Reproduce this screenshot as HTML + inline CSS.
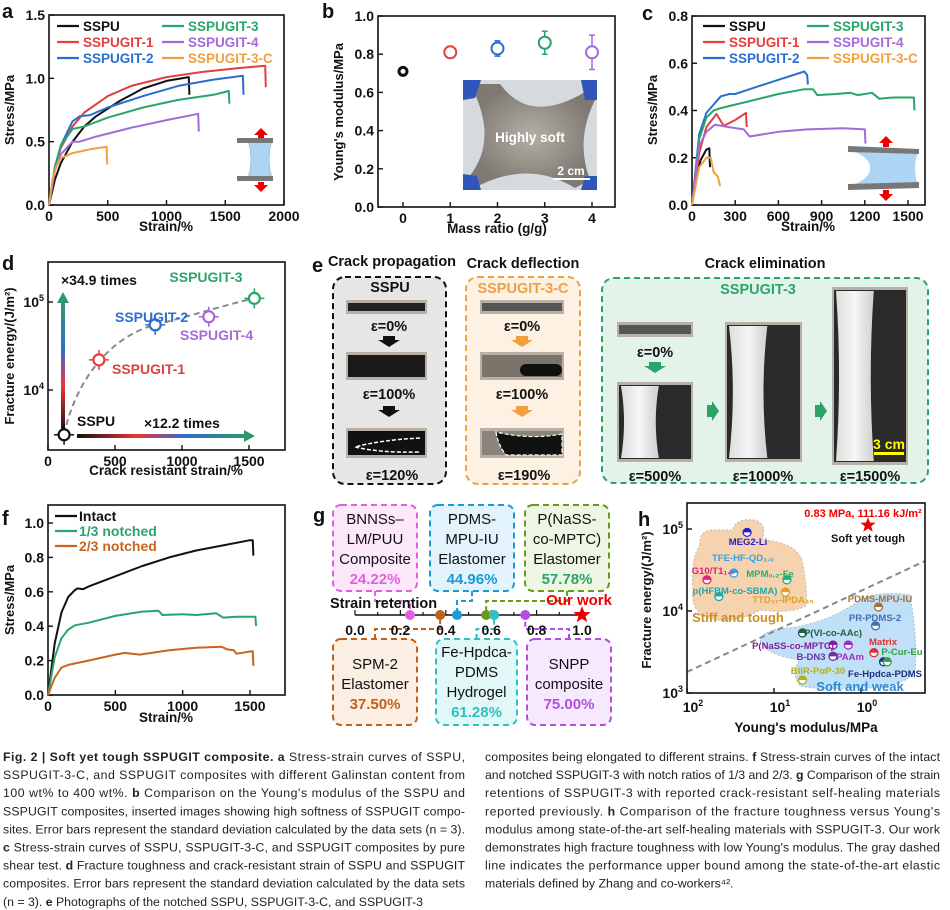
<!DOCTYPE html>
<html><head><meta charset="utf-8"><style>
body{margin:0;background:#fff;}
svg{display:block;font-family:"Liberation Sans",sans-serif;}
.cap{font-size:12.3px;fill:#222;}
</style></head><body>
<svg id="fig" width="950" height="910" viewBox="0 0 950 910" xmlns="http://www.w3.org/2000/svg">
<defs>
<linearGradient id="hgrad" x1="0" x2="1"><stop offset="0" stop-color="#111"/><stop offset="0.35" stop-color="#e33"/><stop offset="0.65" stop-color="#2a6fd0"/><stop offset="1" stop-color="#2a9a6a"/></linearGradient>
<linearGradient id="vgrad" x1="0" x2="0" y1="1" y2="0"><stop offset="0" stop-color="#111"/><stop offset="0.35" stop-color="#e33"/><stop offset="0.65" stop-color="#2a6fd0"/><stop offset="1" stop-color="#2a9a6a"/></linearGradient>
<linearGradient id="film" x1="0" x2="1"><stop offset="0" stop-color="#ddd"/><stop offset="0.5" stop-color="#f6f6f6"/><stop offset="1" stop-color="#cfcfcf"/></linearGradient>
<radialGradient id="softimg"><stop offset="0" stop-color="#b4afa6"/><stop offset="1" stop-color="#7e7a73"/></radialGradient>
</defs>
<g id="panels"></g>
</svg>
<script>
// ---------- DATA ----------
var aNames=["SSPU","SSPUGIT-1","SSPUGIT-2","SSPUGIT-3","SSPUGIT-4","SSPUGIT-3-C"];
var aColors=["#111","#e04040","#2a6fd0","#2aa56a","#a66ad8","#f0a040"];
var aStrain=[
[0,50,100,200,300,400,600,800,1000,1190,1195],
[0,50,100,200,300,500,700,1000,1300,1600,1840,1845],
[0,50,100,200,260,350,500,800,1100,1400,1650,1655],
[0,50,100,200,300,500,800,1100,1400,1530,1535],
[0,50,100,200,260,400,700,1000,1270,1275],
[0,30,60,100,200,350,490,495]];
var aStress=[
[0,0.2,0.33,0.5,0.62,0.7,0.82,0.92,0.98,1.01,0.87],
[0,0.3,0.45,0.62,0.73,0.86,0.94,1.01,1.05,1.08,1.1,0.93],
[0,0.3,0.47,0.66,0.7,0.71,0.77,0.86,0.94,0.99,1.02,0.87],
[0,0.3,0.47,0.6,0.62,0.69,0.77,0.83,0.87,0.9,0.8],
[0,0.27,0.4,0.5,0.5,0.54,0.61,0.67,0.72,0.58],
[0,0.2,0.3,0.37,0.41,0.44,0.46,0.32]];
var bRatio=[0,1,2,3,4];
var bModulus=[0.71,0.81,0.83,0.86,0.81];
var bErr=[0.01,0.03,0.04,0.06,0.09];
var cStrain=[
[0,30,60,100,120,125],
[0,50,100,170,220,300,375,380],
[0,50,100,200,260,300,400,600,780,800,805],
[0,50,100,150,200,400,600,780,840,870,1000,1100,1150,1250,1300,1400,1540,1545],
[0,50,100,160,250,360,400,600,800,1050,1200,1205],
[0,50,100,130,150,180,195]];
var cStress=[
[0,0.12,0.19,0.235,0.24,0.16],
[0,0.22,0.33,0.385,0.335,0.36,0.39,0.33],
[0,0.3,0.39,0.46,0.47,0.47,0.49,0.53,0.565,0.55,0.51],
[0,0.28,0.37,0.4,0.41,0.44,0.47,0.49,0.49,0.465,0.47,0.475,0.465,0.475,0.45,0.455,0.455,0.4],
[0,0.25,0.31,0.34,0.33,0.32,0.29,0.31,0.32,0.325,0.32,0.26],
[0,0.16,0.2,0.2,0.14,0.12,0.08]];
var dNames=["SSPU","SSPUGIT-1","SSPUGIT-2","SSPUGIT-4","SSPUGIT-3"];
var dStrain=[120,380,800,1200,1540];
var dEnergy=[3100,22000,55000,68000,110000];
var dColors=["#111","#e04040","#2a6fd0","#a66ad8","#2aa56a"];
var fNames=["Intact","1/3 notched","2/3 notched"];
var fColors=["#111","#2aa56a","#c8641e"];
var fStrain=[
[0,50,100,150,200,220,260,300,500,700,900,1100,1300,1500,1520,1525],
[0,50,100,150,200,300,500,700,820,850,1000,1100,1250,1300,1400,1540,1545],
[0,50,100,150,300,500,570,680,900,1100,1290,1330,1380,1400,1520,1525]];
var fStress=[
[0,0.3,0.48,0.57,0.61,0.62,0.615,0.63,0.69,0.75,0.8,0.84,0.87,0.9,0.9,0.81],
[0,0.22,0.33,0.38,0.405,0.42,0.46,0.485,0.49,0.465,0.47,0.465,0.475,0.45,0.455,0.455,0.4],
[0,0.1,0.16,0.175,0.2,0.235,0.245,0.235,0.26,0.275,0.28,0.265,0.26,0.24,0.255,0.17]];
var gNames=["BNNSs-LM/PUU","SPM-2","PDMS-MPU-IU","P(NaSS-co-MPTC)","Fe-Hpdca-PDMS","SNPP","Our work"];
var gRetention=[0.2422,0.375,0.4496,0.5778,0.6128,0.75,1.0];
var gColors=["#e060e0","#c0601a","#1a9ad8","#6a9a1a","#30c0c0","#b050e0","#e00"];
var hNames=["MEG2-Li","TFE-HF-QD1.0","G10/T11.6","MPM0.2-Fe","p(HFBM-co-SBMA)","TTD37-IPDA45","PDMS-MPU-IU","PR-PDMS-2","P(VI-co-AAc)","P(NaSS-co-MPTC)","PAAm","B-DN3","Matrix","Fe-Hpdca-PDMS","P-Cur-Eu","BIIR-PαP-30"];
var hModulus=[20.4,29,59,7.1,43,7.4,0.63,0.68,4.7,2.1,1.4,2.1,0.71,0.55,0.5,4.7];
var hEnergy=[91000,29000,24000,24000,15000,17000,11200,6600,5400,3850,3850,2800,3100,2400,2400,1440];
var hColors=["#2222cc","#3aa0e0","#e0207a","#20b070","#20a8a8","#e0a020","#a07040","#4070b0","#206040","#8020a0","#a030c0","#7030a0","#e03030","#203080","#30a040","#b0b020"];
var ourModulus=[0.83], ourEnergy=[111160];

// ---------- helpers ----------
var NS="http://www.w3.org/2000/svg";
var root=document.getElementById("panels");
function el(tag,parent){var e=document.createElementNS(NS,tag);(parent||root).appendChild(e);return e;}
function attr(e,o){for(var k in o)e.setAttribute(k,o[k]);return e;}
function txt(parent,x,y,s,size,fill,anchor,weight){var t=el("text",parent);attr(t,{x:x,y:y,"font-size":size,fill:fill||"#111","text-anchor":anchor||"start","font-weight":weight||"bold"});t.textContent=s;return t;}
function lin(d0,d1,r0,r1){return function(v){return r0+(v-d0)/(d1-d0)*(r1-r0);};}
function logs(d0,d1,r0,r1){return function(v){return r0+(Math.log10(v)-d0)/(d1-d0)*(r1-r0);};}

function axesBox(g,x0,y0,x1,y1){var r=el("rect",g);attr(r,{x:x0,y:y0,width:x1-x0,height:y1-y0,fill:"none",stroke:"#111","stroke-width":1.6});}
function xTicks(g,sx,vals,labels,yb){for(var i=0;i<vals.length;i++){var x=sx(vals[i]);var l=el("line",g);attr(l,{x1:x,x2:x,y1:yb,y2:yb-5,stroke:"#111","stroke-width":1.4});var t=txt(g,x,yb+16,labels[i],14,"#111","middle");}}
function yTicks(g,sy,vals,labels,xl){for(var i=0;i<vals.length;i++){var y=sy(vals[i]);var l=el("line",g);attr(l,{x1:xl,x2:xl+5,y1:y,y2:y,stroke:"#111","stroke-width":1.4});var t=txt(g,xl-4,y+5,labels[i],14,"#111","end");}}
function supTick(g,x,y,exp){var t=txt(g,x,y,"10",14,"#111","end");var s=el("tspan",t);attr(s,{dy:-6,"font-size":9});s.textContent=exp;return t;}
function yTitle(g,x,y,s,size){var t=txt(g,x,y,s,size||13,"#111","middle");t.setAttribute("transform","rotate(-90 "+x+" "+y+")");return t;}
function xTitle(g,x,y,s){var t=txt(g,x,y,s,13.5,"#111","middle");return t;}
function panelLabel(x,y,s){var t=txt(root,x,y,s,20,"#111","start");}
function curve(g,sx,sy,xs,ys,color,w){var d="";for(var i=0;i<xs.length;i++)d+=(i?"L":"M")+sx(xs[i]).toFixed(1)+","+sy(ys[i]).toFixed(1);var p=el("path",g);attr(p,{d:d,fill:"none",stroke:color,"stroke-width":w||2,"stroke-linejoin":"round"});return p;}
function starPath(cx,cy,r){var d="";for(var i=0;i<10;i++){var rr=i%2?r*0.42:r;var a=-Math.PI/2+i*Math.PI/5;d+=(i?"L":"M")+(cx+rr*Math.cos(a)).toFixed(1)+","+(cy+rr*Math.sin(a)).toFixed(1);}return d+"Z";}

// ---------- panel a ----------
(function(){
var g=el("g");
var sx=lin(0,2000,49,284), sy=lin(0,1.5,205,15);
axesBox(g,49,15,284,205);
xTicks(g,sx,[0,500,1000,1500,2000],["0","500","1000","1500","2000"],205);
yTicks(g,sy,[0,0.5,1.0,1.5],["0.0","0.5","1.0","1.5"],49);
for(var i=0;i<aNames.length;i++){var p=curve(g,sx,sy,aStrain[i],aStress[i],aColors[i],2);}
for(var i=0;i<aNames.length;i++){var col=i<3?0:1,row=i%3;var lx=col?162:57,ly=26+row*16;var l=el("line",g);attr(l,{x1:lx,x2:lx+22,y1:ly,y2:ly,stroke:aColors[i],"stroke-width":2.2});var t=txt(g,lx+26,ly+5,aNames[i],13.5,aColors[i]);}
var ig=el("g",g);
attr(el("path",ig),{d:"M248,140 Q254,160 248,178 L272,178 Q266,160 272,140 Z",fill:"#aed4f4",stroke:"#7aa","stroke-width":0.5});
attr(el("rect",ig),{x:237,y:138,width:36,height:5,fill:"#777"});
attr(el("rect",ig),{x:237,y:176,width:36,height:5,fill:"#777"});
attr(el("path",ig),{d:"M261,128 L254,135 L258,135 L258,138 L264,138 L264,135 L268,135 Z",fill:"#e00"});
attr(el("path",ig),{d:"M261,192 L254,185 L258,185 L258,182 L264,182 L264,185 L268,185 Z",fill:"#e00"});
yTitle(g,14,110,"Stress/MPa");
xTitle(g,166,231,"Strain/%");
panelLabel(2,18,"a");
})();

// ---------- panel b ----------
(function(){
var g=el("g");
var sx=lin(0,4,403,592), sy=lin(0,1,207,16);
var ph=el("g",g);
attr(el("rect",ph),{x:463,y:80,width:134,height:110,fill:"#d6d9dd"});
attr(el("path",ph),{d:"M470,84 L500,84 Q530,125 585,92 L595,100 Q575,140 590,180 L575,188 Q530,160 478,186 L468,178 Q500,140 470,84 Z",fill:"url(#softimg)"});
attr(el("path",ph),{d:"M463,80 l18,0 l-6,18 l-12,2Z M597,80 l-16,0 l4,20 l12,0Z M463,190 l0,-16 l14,2 l4,14Z M597,190 l-16,0 l4,-14 l12,0Z",fill:"#2f56b8"});
var t=txt(ph,530,142,"Highly soft",13.5,"#fff","middle");
attr(el("rect",ph),{x:553,y:178,width:37,height:2,fill:"#fff"});
var t2=txt(ph,571,175,"2 cm",12,"#fff","middle");
axesBox(g,378,16,615,207);
xTicks(g,sx,[0,1,2,3,4],["0","1","2","3","4"],207);
yTicks(g,sy,[0,0.2,0.4,0.6,0.8,1.0],["0.0","0.2","0.4","0.6","0.8","1.0"],378);
for(var i=0;i<bRatio.length;i++){var x=sx(bRatio[i]),y=sy(bModulus[i]);var eb=el("path",g);attr(eb,{d:"M"+(x-3)+","+sy(bModulus[i]+bErr[i])+"h6M"+x+","+sy(bModulus[i]+bErr[i])+"V"+sy(bModulus[i]-bErr[i])+"M"+(x-3)+","+sy(bModulus[i]-bErr[i])+"h6",stroke:aColors[i],"stroke-width":1.5,fill:"none"});
var c=el("circle",g);attr(c,{cx:x,cy:y,r:i==0?4:6,fill:"#fff",stroke:aColors[i],"stroke-width":i==0?3:2});}
yTitle(g,343,112,"Young's modulus/MPa");
xTitle(g,497,233,"Mass ratio (g/g)");
panelLabel(322,18,"b");
})();

// ---------- panel c ----------
(function(){
var g=el("g");
var sx=lin(0,1500,692,908), sy=lin(0,0.8,205,16);
axesBox(g,692,16,925,205);
xTicks(g,sx,[0,300,600,900,1200,1500],["0","300","600","900","1200","1500"],205);
yTicks(g,sy,[0,0.2,0.4,0.6,0.8],["0.0","0.2","0.4","0.6","0.8"],692);
for(var i=0;i<aNames.length;i++){var p=curve(g,sx,sy,cStrain[i],cStress[i],aColors[i],2);}
for(var i=0;i<aNames.length;i++){var col=i<3?0:1,row=i%3;var lx=col?807:703,ly=26+row*16;var l=el("line",g);attr(l,{x1:lx,x2:lx+22,y1:ly,y2:ly,stroke:aColors[i],"stroke-width":2.2});var t=txt(g,lx+26,ly+5,aNames[i],13.5,aColors[i]);}
var ig=el("g",g);
attr(el("path",ig),{d:"M855,152 L918,152 Q912,170 918,184 L855,184 Q870,178 870,168 Q870,158 855,152Z",fill:"#aed4f4"});
attr(el("path",ig),{d:"M848,146 L919,149 L919,154 L848,152Z",fill:"#777"});
attr(el("path",ig),{d:"M848,184 L919,182 L919,188 L848,190Z",fill:"#777"});
attr(el("path",ig),{d:"M886,136 L879,143 L883,143 L883,147 L889,147 L889,143 L893,143Z",fill:"#e00"});
attr(el("path",ig),{d:"M886,201 L879,194 L883,194 L883,190 L889,190 L889,194 L893,194Z",fill:"#e00"});
yTitle(g,657,110,"Stress/MPa");
xTitle(g,808,231,"Strain/%");
panelLabel(642,20,"c");
})();

// ---------- panel d ----------
(function(){
var g=el("g");
var sx=lin(0,1500,48,249), sy=logs(4,5,390,302);
axesBox(g,48,262,285,450);
xTicks(g,sx,[0,500,1000,1500],["0","500","1000","1500"],450);
supTick(g,44,307,"5");supTick(g,44,395,"4");
[302,390].forEach(function(y){attr(el("line",g),{x1:48,x2:53,y1:y,y2:y,stroke:"#111","stroke-width":1.4});});
var ar=el("g",g);
attr(el("rect",ar),{x:61,y:302,width:4,height:130,fill:"url(#vgrad)"});
attr(el("path",ar),{d:"M57,303 L63,292 L69,303Z",fill:"#2a9a6a"});
attr(el("rect",ar),{x:77,y:434,width:168,height:4,fill:"url(#hgrad)"});
attr(el("path",ar),{d:"M244,430 L255,436 L244,442Z",fill:"#2a9a6a"});
var t1=txt(g,61,285,"×34.9 times",14);
var t2=txt(g,144,428,"×12.2 times",14);
var fc=el("path",g);attr(fc,{d:"M"+sx(120)+","+sy(3100)+" C"+sx(200)+","+sy(12000)+" "+sx(450)+","+sy(40000)+" "+sx(800)+","+sy(55000)+" S"+sx(1350)+","+sy(95000)+" "+sx(1540)+","+sy(110000),fill:"none",stroke:"#888","stroke-width":2,"stroke-dasharray":"6,4"});
var lab=[[77,426],[112,374],[115,322],[180,340],[206,282]];
for(var i=0;i<dStrain.length;i++){var x=sx(dStrain[i]),y=sy(dEnergy[i]);
var eb=el("path",g);attr(eb,{d:"M"+(x-10)+","+y+"H"+(x+10)+"M"+x+","+(y-10)+"V"+(y+10),stroke:dColors[i],"stroke-width":1.5});
var c=el("circle",g);attr(c,{cx:x,cy:y,r:5.5,fill:"#fff",stroke:dColors[i],"stroke-width":2.2});
var t=txt(g,lab[i][0],lab[i][1],dNames[i],14,dColors[i],i==4?"middle":"start");}
yTitle(g,14,356,"Fracture energy/(J/m²)");
xTitle(g,166,475,"Crack resistant strain/%");
panelLabel(2,270,"d");
})();

// ---------- panel e ----------
(function(){
var g=el("g");
function box(x,y,w,h,stroke,fill,name){var r=el("rect",g);attr(r,{x:x,y:y,width:w,height:h,rx:12,fill:fill,stroke:stroke,"stroke-width":2,"stroke-dasharray":"6,4"});}
function photo(x,y,w,h,dark){var p=el("g",g);attr(el("rect",p),{x:x,y:y,width:w,height:h,fill:"#b8b0a4"});attr(el("rect",p),{x:x+2,y:y+3,width:w-4,height:h-6,fill:dark});return p;}
function arrow(x,y,col){var a=el("path",g);attr(a,{d:"M"+(x-6)+","+y+"h12v4h5l-11,7l-11,-7h5z",fill:col});}
function label(x,y,s,size,col){var t=txt(g,x,y,s,size||14.5,col||"#111","middle");}
box(333,277,113,207,"#111","#e6e6e6","sspu-box");
box(466,277,114,207,"#f0a040","#fdf1e4","sspugit-3-c-box");
box(602,278,326,205,"#2aa56a","#e4f3ea","sspugit-3-box");
label(392,266,"Crack propagation",14.5);label(523,268,"Crack deflection",14.5);label(765,268,"Crack elimination",14.5);
label(390,292,"SSPU",14.5);label(523,293,"SSPUGIT-3-C",14.5,"#f0a040");label(758,294,"SSPUGIT-3",14.5,"#2aa56a");
photo(346,300,81,14,"#222");label(389,331,"ε=0%");arrow(389,336,"#111");
photo(346,352,81,28,"#1a1a1a");label(389,399,"ε=100%");arrow(389,406,"#111");
var p3=photo(346,428,81,30,"#111");attr(el("path",p3),{d:"M420,438 Q380,440 355,447 Q380,453 420,452",fill:"none",stroke:"#fff","stroke-width":1.5,"stroke-dasharray":"4,2"});
label(392,480,"ε=120%");
photo(480,300,84,14,"#555");label(522,331,"ε=0%");arrow(522,336,"#f0a040");
var q2=photo(480,352,84,28,"#7a746a");attr(el("rect",q2),{x:520,y:364,width:42,height:12,rx:6,fill:"#111"});label(522,399,"ε=100%");arrow(522,406,"#f0a040");
var q3=photo(480,428,84,30,"#8a847a");attr(el("path",q3),{d:"M496,432 Q498,445 506,455 L562,455 L562,434 Q530,440 496,432Z",fill:"#111",stroke:"#fff","stroke-width":1.2,"stroke-dasharray":"4,2"});
label(524,480,"ε=190%");
photo(617,322,76,15,"#555");label(655,357,"ε=0%");arrow(655,362,"#2aa56a");
function stretched(x,y,w,h,neck){var p=photo(x,y,w,h,"#2a2a2a");attr(el("path",p),{d:"M"+(x+4)+","+(y+4)+" L"+(x+w*0.55)+","+(y+4)+" Q"+(x+w*(0.55-neck))+","+(y+h/2)+" "+(x+w*0.55)+","+(y+h-4)+" L"+(x+4)+","+(y+h-4)+" Q"+(x+4+w*neck)+","+(y+h/2)+" "+(x+4)+","+(y+4)+"Z",fill:"url(#film)"});}
stretched(617,382,76,80,0.08);stretched(725,322,77,140,0.1);stretched(832,287,76,178,0.08);
label(655,481,"ε=500%");label(763,481,"ε=1000%");label(870,481,"ε=1500%");
[[712,411],[820,411]].forEach(function(a){var r=el("path",g);attr(r,{d:"M"+(a[0]-5)+","+(a[1]-6)+"h5v-4l7,10l-7,10v-4h-5z",fill:"#2aa56a"});});
attr(el("rect",g),{x:874,y:452,width:30,height:3,fill:"#ff0"});
var sc=txt(g,889,449,"3 cm",14,"#ff0","middle");
panelLabel(312,272,"e");
})();

// ---------- panel f ----------
(function(){
var g=el("g");
var sx=lin(0,1500,48,250), sy=lin(0,1.0,695,523);
axesBox(g,48,505,285,695);
xTicks(g,sx,[0,500,1000,1500],["0","500","1000","1500"],695);
yTicks(g,sy,[0,0.2,0.4,0.6,0.8,1.0],["0.0","0.2","0.4","0.6","0.8","1.0"],48);
for(var i=0;i<fNames.length;i++){var p=curve(g,sx,sy,fStrain[i],fStress[i],fColors[i],2);
var ly=516+i*15;var l=el("line",g);attr(l,{x1:55,x2:77,y1:ly,y2:ly,stroke:fColors[i],"stroke-width":2.2});var t=txt(g,79,ly+5,fNames[i],14,fColors[i]);}
yTitle(g,14,600,"Stress/MPa");
xTitle(g,166,722,"Strain/%");
panelLabel(2,525,"f");
})();

// ---------- panel g ----------
(function(){
var g=el("g");
var sx=lin(0,1,355,582), ay=615;
var boxes=[[333,505,"#e060e0","#fde8fb",["BNNSs–","LM/PUU","Composite"],"24.22%",0,0],
[430,505,"#1a9ad8","#e2f3fb",["PDMS-","MPU-IU","Elastomer"],"44.96%",2,0],
[525,505,"#6a9a1a","#eef5e2",["P(NaSS-","co-MPTC)","Elastomer"],"57.78%",3,0],
[333,639,"#c0601a","#fbeee2",["SPM-2","Elastomer"],"37.50%",1,1],
[436,639,"#30c0c0","#e2f8f8",["Fe-Hpdca-","PDMS","Hydrogel"],"61.28%",4,1],
[527,639,"#b050e0","#f6e8fd",["SNPP","composite"],"75.00%",5,1]];
var pctCol=["#e060e0","#1a9ad8","#2aa56a","#c0601a","#30c0c0","#b050e0"];
boxes.forEach(function(b,k){var w=(k==4)?81:84;var h=86;
var r=el("rect",g);attr(r,{x:b[0],y:b[1],width:w,height:h,rx:8,fill:b[3],stroke:b[2],"stroke-width":2,"stroke-dasharray":"6,4"});
var n=b[4].length, y0=b[7]? b[1]+ (n==2?30:18) : b[1]+19;
b[4].forEach(function(s,j){var t=txt(g,b[0]+w/2,y0+j*20,s,15,"#111","middle","normal");});
var pt=txt(g,b[0]+w/2,y0+n*20,b[5],15,pctCol[k],"middle");
var mx=sx(gRetention[b[6]]);var cy=b[7]?b[1]:b[1]+86;var c=el("path",g);var midy=b[7]?(ay+cy)/2+2:(ay+cy)/2-2;
attr(c,{d:"M"+(b[0]+w/2)+","+cy+"V"+midy+"H"+mx+"V"+ay,fill:"none",stroke:b[2],"stroke-width":2,"stroke-dasharray":"5,3"});});
var ax=el("line",g);attr(ax,{x1:sx(0),x2:sx(1),y1:ay,y2:ay,stroke:"#111","stroke-width":1.6});
for(var v=0;v<=10;v++){var tl=el("line",g);attr(tl,{x1:sx(v/10),x2:sx(v/10),y1:ay,y2:ay-(v%2?3:5),stroke:"#111","stroke-width":1.2});if(v%2==0){var t=txt(g,sx(v/10),ay+20,(v/10).toFixed(1),14,"#111","middle");}}
var st=txt(g,330,608,"Strain retention",14.5,"#111","start");
for(var i=0;i<gRetention.length-1;i++){var c=el("circle",g);attr(c,{cx:sx(gRetention[i]),cy:ay,r:5,fill:gColors[i]});}
var x=sx(gRetention[6]);var star=el("path",g);attr(star,{d:starPath(x,ay,9),fill:"#e00"});
var ow=txt(g,612,605,"Our work",15,"#e00","end");
panelLabel(313,522,"g");
})();

// ---------- panel h ----------
(function(){
var g=el("g");
var sx=function(v){return 687+(2-Math.log10(v))*87;}, sy=logs(3,5,693,529);
var cp=el("clipPath",g);cp.setAttribute("id","hclip");attr(el("rect",cp),{x:687,y:503,width:238,height:190});
var inner=el("g",g);inner.setAttribute("clip-path","url(#hclip)");
var b1=el("path",inner);attr(b1,{d:"M700,545 Q698,528 720,530 L733,530 Q735,518 755,520 Q768,525 762,540 Q795,542 802,560 Q808,590 806,606 Q790,614 760,610 Q740,622 715,620 Q690,615 693,590 Q690,560 700,545Z",fill:"#f6d2ae",stroke:"#bbb","stroke-dasharray":"2,2"});
var b2=el("path",inner);attr(b2,{d:"M860,600 Q880,590 910,595 Q918,640 915,670 Q905,690 850,688 Q820,690 800,686 Q790,672 800,660 Q765,655 760,640 Q765,628 790,628 Q830,622 860,600Z",fill:"#bfe0f6",stroke:"#bbb","stroke-dasharray":"2,2"});
var dl=el("line",inner);attr(dl,{x1:687,y1:672,x2:925,y2:561,stroke:"#888","stroke-width":2,"stroke-dasharray":"6,4"});
axesBox(g,687,503,925,693);
[[2,"2"],[1,"1"],[0,"0"]].forEach(function(p){var x=sx(Math.pow(10,p[0]));attr(el("line",g),{x1:x,x2:x,y1:693,y2:688,stroke:"#111","stroke-width":1.4});var t=txt(g,x+6,712,"10",14,"#111","middle");var s=el("tspan",t);attr(s,{dy:-6,"font-size":9});s.textContent=p[1];});
[[3,"3"],[4,"4"],[5,"5"]].forEach(function(p){var y=sy(Math.pow(10,p[0]));attr(el("line",g),{x1:687,x2:692,y1:y,y2:y,stroke:"#111","stroke-width":1.4});supTick(g,683,y+5,p[1]);});
var lbl=[[748,545],[743,561],[713,574],[770,577],[735,594],[783,603],[880,602],[875,621],[833,636],[793,649],[850,660],[811,660],[883,645],[885,677],[902,655],[818,674]];
var lt=["MEG2-Li","TFE-HF-QD₁.₀","G10/T1₁.₆","MPM₀.₂-Fe","p(HFBM-co-SBMA)","TTD₃₇-IPDA₄₅","PDMS-MPU-IU","PR-PDMS-2","P(VI-co-AAc)","P(NaSS-co-MPTC)","PAAm","B-DN3","Matrix","Fe-Hpdca-PDMS","P-Cur-Eu","BIIR-PαP-30"];
for(var i=0;i<hNames.length;i++){var x=sx(hModulus[i]),y=sy(hEnergy[i]);var m=el("circle",g);attr(m,{cx:x,cy:y,r:4,fill:"#fff",stroke:hColors[i],"stroke-width":1.3});
var hl=el("path",g);attr(hl,{d:"M"+(x-4)+","+y+"A4,4 0 0,1 "+(x+4)+","+y+"Z",fill:hColors[i]});
var t=txt(g,lbl[i][0],lbl[i][1],lt[i],9.5,hColors[i],"middle");}
var ox=sx(ourModulus[0]),oy=sy(ourEnergy[0]);var st=el("path",g);attr(st,{d:starPath(ox,oy,8),fill:"#e00"});
var t1=txt(g,863,517,"0.83 MPa, 111.16 kJ/m²",11,"#e00","middle");
var t2=txt(g,868,542,"Soft yet tough",11,"#111","middle");
var t3=txt(g,738,622,"Stiff and tough",13,"#c89020","middle");
var t4=txt(g,860,691,"Soft and weak",13,"#2a8ad8","middle");
yTitle(g,651,600,"Fracture energy/(J/m²)");
xTitle(g,806,732,"Young's modulus/MPa");
panelLabel(638,526,"h");
})();

// ---------- caption ----------
(function(){
var g=el("g");
var left=[["Fig. 2 | Soft yet tough SSPUGIT composite. a"," Stress-strain curves of SSPU,"],["","SSPUGIT-3-C, and SSPUGIT composites with different Galinstan content from"],["","100 wt% to 400 wt%. ","b"," Comparison on the Young's modulus of the SSPU and"],["","SSPUGIT composites, inserted images showing high softness of SSPUGIT compo-"],["","sites. Error bars represent the standard deviation calculated by the data sets (n = 3)."],["c"," Stress-strain curves of SSPU, SSPUGIT-3-C, and SSPUGIT composites by pure"],["","shear test. ","d"," Fracture toughness and crack-resistant strain of SSPU and SSPUGIT"],["","composites. Error bars represent the standard deviation calculated by the data sets"],["","(n = 3). ","e"," Photographs of the notched SSPU, SSPUGIT-3-C, and SSPUGIT-3"]];
var right=[["","composites being elongated to different strains. ","f"," Stress-strain curves of the intact"],["","and notched SSPUGIT-3 with notch ratios of 1/3 and 2/3. ","g"," Comparison of the strain"],["","retentions of SSPUGIT-3 with reported crack-resistant self-healing materials"],["","reported previously. ","h"," Comparison of the fracture toughness versus Young's"],["","modulus among state-of-the-art self-healing materials with SSPUGIT-3. Our work"],["","demonstrates high fracture toughness with low Young's modulus. The gray dashed"],["","line indicates the performance upper bound among the state-of-the-art elastic"],["","materials defined by Zhang and co-workers⁴²."]];
function write(lines,x,y0,w){lines.forEach(function(parts,i){var t=el("text",g);attr(t,{x:x,y:y0+i*18.1,"class":"cap"});if(parts.join("").length>70){t.setAttribute("textLength",w);t.setAttribute("lengthAdjust","spacing");}
parts.forEach(function(p,j){if(!p)return;var s=el("tspan",t);s.textContent=p;if(j%2==0)s.setAttribute("font-weight","bold");});});}
write(left,3,761,462);
write(right,485,761,455);
})();
</script>
</body></html>
